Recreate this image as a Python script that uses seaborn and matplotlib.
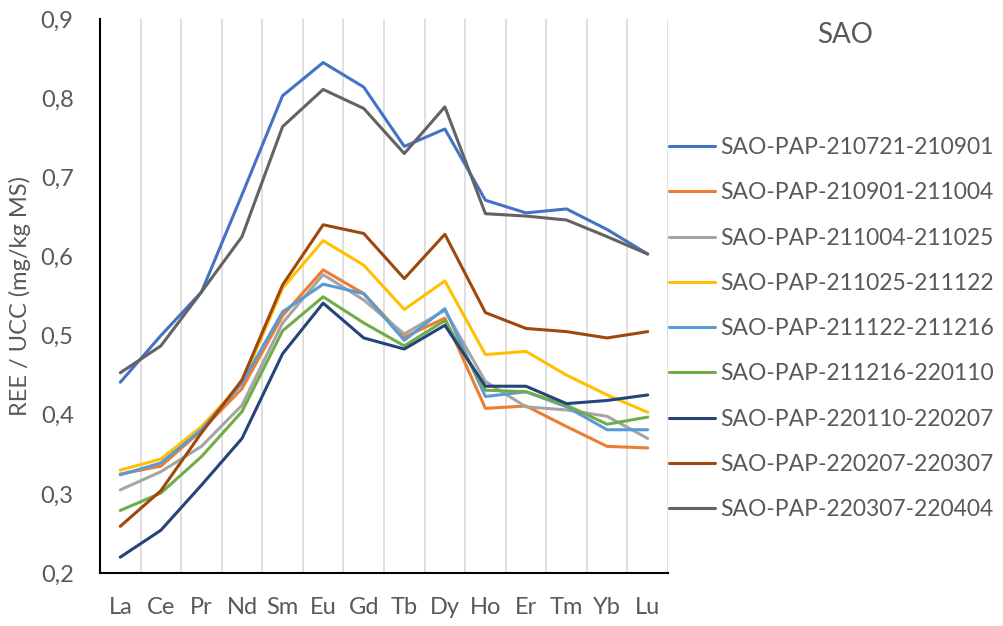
import matplotlib
matplotlib.use('Agg')
import matplotlib.pyplot as plt
import pandas as pd
import seaborn as sns

# Elementos (tierras raras)
elementos = ['La', 'Ce', 'Pr', 'Nd', 'Sm', 'Eu', 'Gd', 'Tb', 'Dy', 'Ho', 'Er', 'Tm', 'Yb', 'Lu']

# Valores REE / UCC por periodo de muestreo
s_210721_210901 = [0.441, 0.500, 0.555, 0.678, 0.803, 0.845, 0.814, 0.739, 0.761, 0.671, 0.655, 0.660, 0.634, 0.603]
s_210901_211004 = [0.325, 0.335, 0.380, 0.433, 0.525, 0.583, 0.553, 0.498, 0.522, 0.408, 0.411, 0.385, 0.360, 0.358]
s_211004_211025 = [0.305, 0.328, 0.360, 0.412, 0.516, 0.577, 0.545, 0.502, 0.532, 0.442, 0.410, 0.406, 0.398, 0.370]
s_211025_211122 = [0.330, 0.344, 0.385, 0.440, 0.560, 0.620, 0.589, 0.533, 0.569, 0.476, 0.480, 0.450, 0.425, 0.403]
s_211122_211216 = [0.324, 0.339, 0.381, 0.440, 0.530, 0.565, 0.553, 0.494, 0.534, 0.423, 0.429, 0.410, 0.381, 0.381]
s_211216_220110 = [0.279, 0.301, 0.347, 0.404, 0.506, 0.549, 0.516, 0.487, 0.519, 0.431, 0.429, 0.412, 0.388, 0.397]
s_220110_220207 = [0.220, 0.254, 0.311, 0.370, 0.477, 0.541, 0.497, 0.483, 0.513, 0.436, 0.436, 0.414, 0.418, 0.425]
s_220207_220307 = [0.259, 0.304, 0.377, 0.444, 0.564, 0.640, 0.629, 0.572, 0.628, 0.529, 0.509, 0.505, 0.497, 0.505]
s_220307_220404 = [0.453, 0.487, 0.555, 0.625, 0.764, 0.811, 0.787, 0.730, 0.789, 0.654, 0.651, 0.646, 0.625, 0.603]

series = {
    'SAO-PAP-210721-210901': s_210721_210901,
    'SAO-PAP-210901-211004': s_210901_211004,
    'SAO-PAP-211004-211025': s_211004_211025,
    'SAO-PAP-211025-211122': s_211025_211122,
    'SAO-PAP-211122-211216': s_211122_211216,
    'SAO-PAP-211216-220110': s_211216_220110,
    'SAO-PAP-220110-220207': s_220110_220207,
    'SAO-PAP-220207-220307': s_220207_220307,
    'SAO-PAP-220307-220404': s_220307_220404,
}

y_ticks = [0.2, 0.3, 0.4, 0.5, 0.6, 0.7, 0.8, 0.9]
y_tick_labels = ['0,2', '0,3', '0,4', '0,5', '0,6', '0,7', '0,8', '0,9']

# Paleta de Office
colores = ['#4472C4', '#ED7D31', '#A5A5A5', '#FFC000', '#5B9BD5',
           '#70AD47', '#264478', '#9E480E', '#636363']

df = pd.DataFrame([
    {'elemento': el, 'valor': v, 'serie': nombre}
    for nombre, valores in series.items()
    for el, v in zip(elementos, valores)
])

sns.set_style('white')
plt.rcParams['font.family'] = ['Lato', 'DejaVu Sans']
texto = '#595959'

fig = plt.figure(figsize=(10.04, 6.26), dpi=100)
ax = fig.add_axes([100 / 1004, 53 / 626, 568 / 1004, 554 / 626])

sns.lineplot(data=df, x='elemento', y='valor', hue='serie', palette=colores,
             sort=False, linewidth=2.2, ax=ax, legend=True)

# Rejilla vertical entre categorías
for i in range(len(elementos)):
    ax.axvline(i + 0.5, color='#D9D9D9', linewidth=1.2, zorder=0)

ax.set_xlim(-0.5, len(elementos) - 0.5)
ax.set_ylim(0.2, 0.9)
ax.set_yticks(y_ticks)
ax.set_yticklabels(y_tick_labels)
ax.tick_params(axis='both', length=0, labelsize=17, colors=texto)
ax.tick_params(axis='x', pad=17)
ax.tick_params(axis='y', pad=19)
ax.set_xlabel('')
ax.set_ylabel('REE / UCC (mg/kg MS)', fontsize=17, color=texto, labelpad=7)

for lado in ['top', 'right']:
    ax.spines[lado].set_visible(False)
for lado in ['left', 'bottom']:
    ax.spines[lado].set_color('black')
    ax.spines[lado].set_linewidth(1.5)

handles, labels = ax.get_legend_handles_labels()
ax.legend(handles, labels, loc='upper left', bbox_to_anchor=(669 / 1004, 1 - 137 / 626),
          bbox_transform=fig.transFigure, frameon=False, fontsize=16.5,
          handlelength=2.0, handletextpad=0.25, labelspacing=1.06, borderaxespad=0,
          borderpad=0, labelcolor=texto)

fig.text(845 / 1004, 1 - 35 / 626, 'SAO', ha='center', va='center', fontsize=20, color=texto)

fig.savefig('out.png', dpi=100)
